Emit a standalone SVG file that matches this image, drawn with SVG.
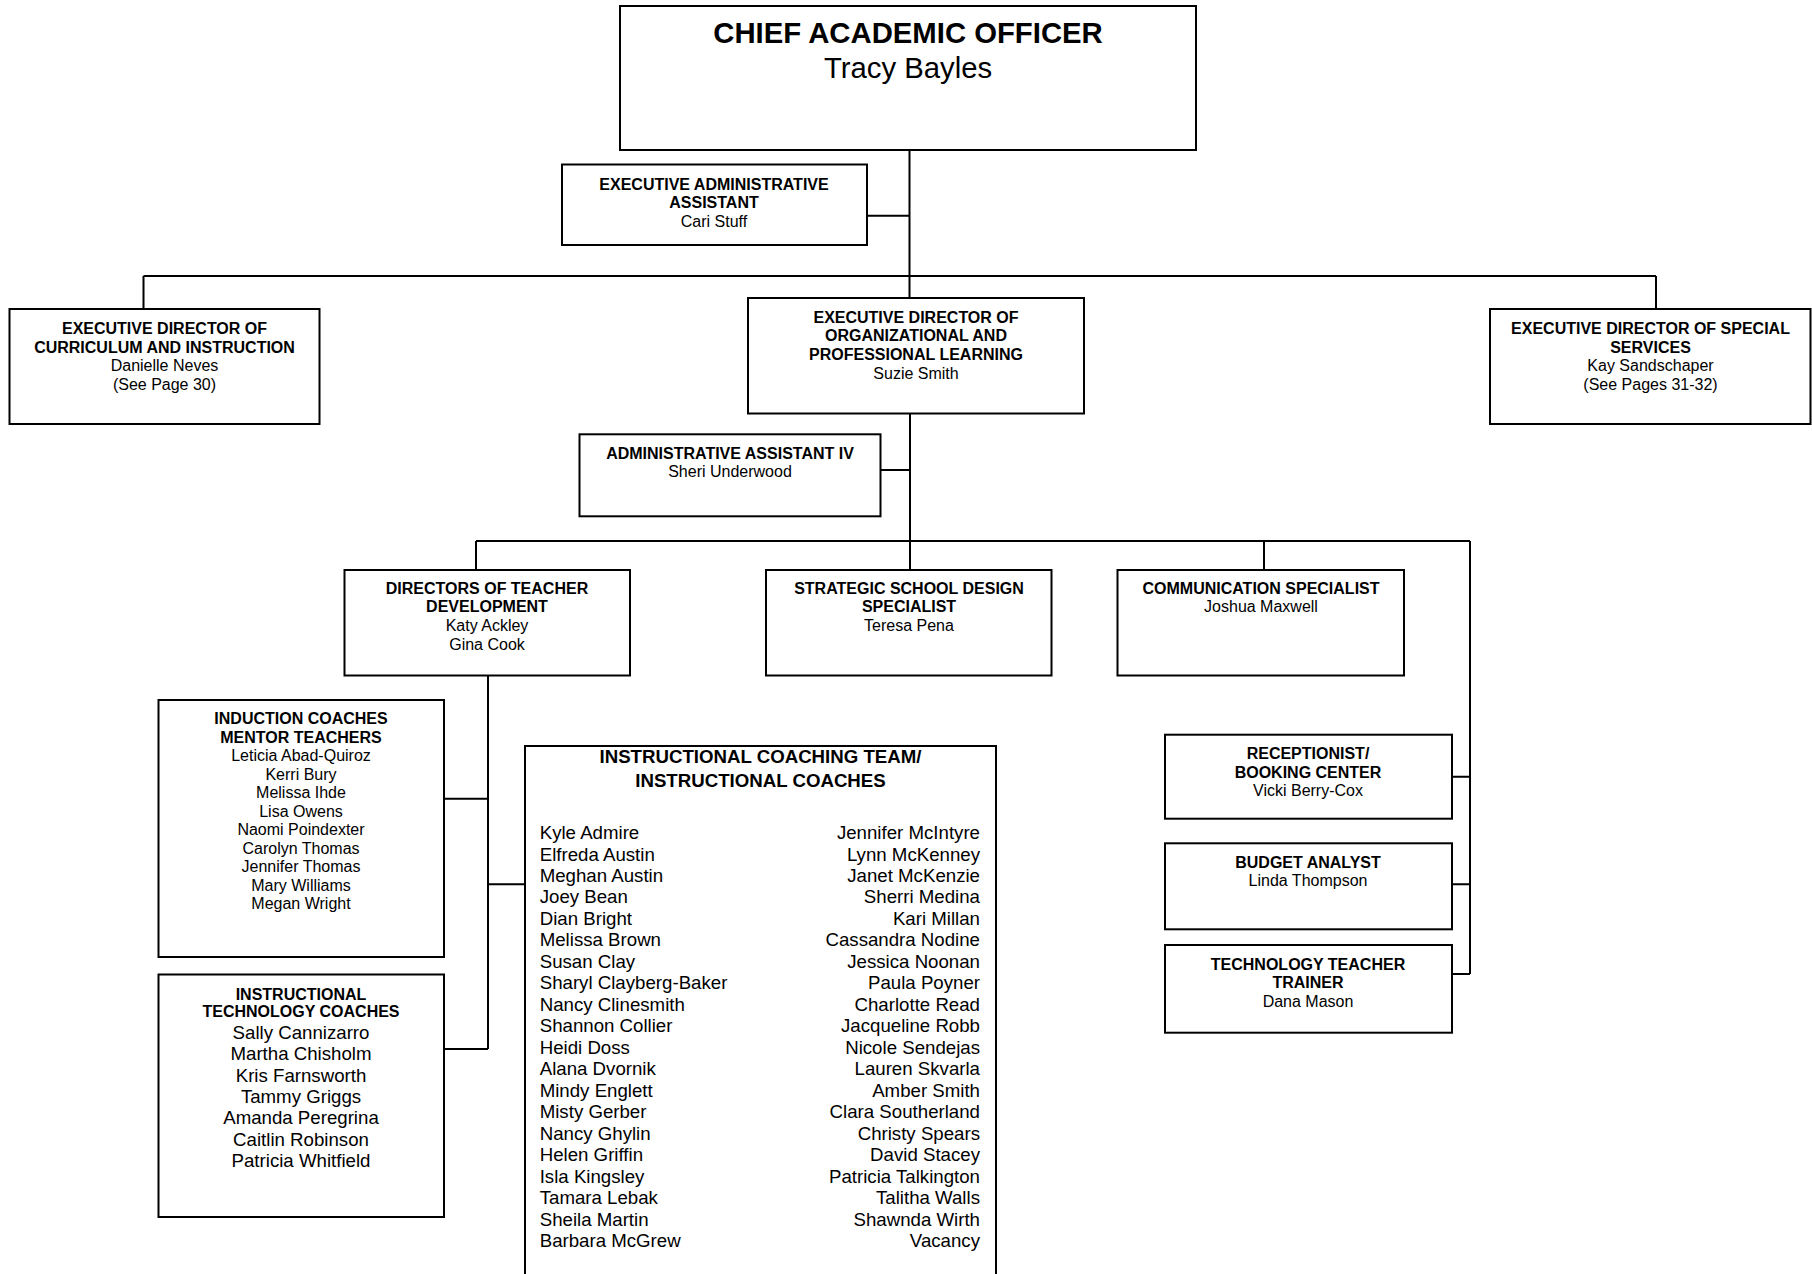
<svg xmlns="http://www.w3.org/2000/svg" width="1812" height="1274" viewBox="0 0 1812 1274">
<style>
  .box{fill:#fff;stroke:#000;stroke-width:2}
  .ln{fill:none;stroke:#000;stroke-width:2}
  text{font-family:"Liberation Sans",Arial,Helvetica,sans-serif;fill:#000}
  .t{font-size:16px;font-weight:bold;text-anchor:middle}
  .n{font-size:16px;text-anchor:middle}
  .t18{font-size:18.67px;font-weight:bold;text-anchor:middle}
  .n18{font-size:18.67px;text-anchor:middle}
  .l18{font-size:18.67px;text-anchor:start}
  .r18{font-size:18.67px;text-anchor:end}
</style>
<rect width="1812" height="1274" fill="#fff"/>
<g id="connectors">
  <path class="ln" d="M909.5 150V298M867 215.7H909.5M143.5 276H1656M143.5 276V309M1656 276V309"/>
  <path class="ln" d="M910 413.5V570M880.5 470H910M476 541H1470M476 541V570M1264 541V570M1470 541V974M1452 776.7H1470M1452 884.3H1470M1452 974H1470"/>
  <path class="ln" d="M488 675.5V1049M444 798.7H488M488 884.3H525M444 1049H488"/>
</g>
<g id="cao">
  <rect class="box" x="620" y="6" width="576" height="144"/>
  <text x="908" y="43" style="font-size:29.3px;font-weight:bold;text-anchor:middle">CHIEF ACADEMIC OFFICER</text>
  <text x="908" y="78" style="font-size:29.3px;text-anchor:middle">Tracy Bayles</text>
</g>
<g id="exec-admin-assistant">
  <rect class="box" x="562" y="164.5" width="305" height="80.5"/>
  <text class="t" x="714" y="189.5">EXECUTIVE ADMINISTRATIVE</text>
  <text class="t" x="714" y="208">ASSISTANT</text>
  <text class="n" x="714" y="226.5">Cari Stuff</text>
</g>
<g id="ed-curriculum">
  <rect class="box" x="9.5" y="309" width="310" height="115"/>
  <text class="t" x="164.5" y="334">EXECUTIVE DIRECTOR OF</text>
  <text class="t" x="164.5" y="352.5">CURRICULUM AND INSTRUCTION</text>
  <text class="n" x="164.5" y="371">Danielle Neves</text>
  <text class="n" x="164.5" y="389.5">(See Page 30)</text>
</g>
<g id="ed-org-prof-learning">
  <rect class="box" x="748" y="298" width="336" height="115.5"/>
  <text class="t" x="916" y="322.5">EXECUTIVE DIRECTOR OF</text>
  <text class="t" x="916" y="341">ORGANIZATIONAL AND</text>
  <text class="t" x="916" y="359.5">PROFESSIONAL LEARNING</text>
  <text class="n" x="916" y="378.5">Suzie Smith</text>
</g>
<g id="ed-special-services">
  <rect class="box" x="1490" y="309" width="320.5" height="115"/>
  <text class="t" x="1650.5" y="334">EXECUTIVE DIRECTOR OF SPECIAL</text>
  <text class="t" x="1650.5" y="352.5">SERVICES</text>
  <text class="n" x="1650.5" y="371">Kay Sandschaper</text>
  <text class="n" x="1650.5" y="389.5">(See Pages 31-32)</text>
</g>
<g id="admin-assistant-iv">
  <rect class="box" x="579.5" y="434.3" width="301" height="82"/>
  <text class="t" x="730" y="458.7">ADMINISTRATIVE ASSISTANT IV</text>
  <text class="n" x="730" y="477.2">Sheri Underwood</text>
</g>
<g id="directors-teacher-dev">
  <rect class="box" x="344.5" y="570" width="285.5" height="105.5"/>
  <text class="t" x="487" y="593.5">DIRECTORS OF TEACHER</text>
  <text class="t" x="487" y="612.3">DEVELOPMENT</text>
  <text class="n" x="487" y="631.1">Katy Ackley</text>
  <text class="n" x="487" y="649.9">Gina Cook</text>
</g>
<g id="strategic-school-design">
  <rect class="box" x="766" y="570" width="285.5" height="105.5"/>
  <text class="t" x="909" y="593.5">STRATEGIC SCHOOL DESIGN</text>
  <text class="t" x="909" y="612.3">SPECIALIST</text>
  <text class="n" x="909" y="631.1">Teresa Pena</text>
</g>
<g id="communication-specialist">
  <rect class="box" x="1117.5" y="570" width="286.5" height="105.5"/>
  <text class="t" x="1261" y="593.5">COMMUNICATION SPECIALIST</text>
  <text class="n" x="1261" y="612.3">Joshua Maxwell</text>
</g>
<g id="induction-coaches">
  <rect class="box" x="158.5" y="700" width="285.5" height="257"/>
  <text class="t" x="301" y="724">INDUCTION COACHES</text>
  <text class="t" x="301" y="742.5">MENTOR TEACHERS</text>
  <text class="n" x="301" y="761">Leticia Abad-Quiroz</text>
  <text class="n" x="301" y="779.5">Kerri Bury</text>
  <text class="n" x="301" y="798">Melissa Ihde</text>
  <text class="n" x="301" y="816.5">Lisa Owens</text>
  <text class="n" x="301" y="835">Naomi Poindexter</text>
  <text class="n" x="301" y="853.5">Carolyn Thomas</text>
  <text class="n" x="301" y="872">Jennifer Thomas</text>
  <text class="n" x="301" y="890.5">Mary Williams</text>
  <text class="n" x="301" y="909">Megan Wright</text>
</g>
<g id="instructional-tech-coaches">
  <rect class="box" x="158.5" y="974.5" width="285.5" height="242.5"/>
  <text class="t" x="301" y="999.5">INSTRUCTIONAL</text>
  <text class="t" x="301" y="1017">TECHNOLOGY COACHES</text>
  <text class="n18" x="301" y="1038.7">Sally Cannizarro</text>
  <text class="n18" x="301" y="1060.1">Martha Chisholm</text>
  <text class="n18" x="301" y="1081.5">Kris Farnsworth</text>
  <text class="n18" x="301" y="1102.9">Tammy Griggs</text>
  <text class="n18" x="301" y="1124.3">Amanda Peregrina</text>
  <text class="n18" x="301" y="1145.7">Caitlin Robinson</text>
  <text class="n18" x="301" y="1167.1">Patricia Whitfield</text>
</g>
<g id="instructional-coaching-team">
  <rect class="box" x="525" y="746" width="471" height="540"/>
  <text class="t18" x="760.5" y="763">INSTRUCTIONAL COACHING TEAM/</text>
  <text class="t18" x="760.5" y="787">INSTRUCTIONAL COACHES</text>
  <g class="col-left">
    <text class="l18" x="539.7" y="839">Kyle Admire</text>
    <text class="l18" x="539.7" y="860.5">Elfreda Austin</text>
    <text class="l18" x="539.7" y="881.9">Meghan Austin</text>
    <text class="l18" x="539.7" y="903.4">Joey Bean</text>
    <text class="l18" x="539.7" y="924.9">Dian Bright</text>
    <text class="l18" x="539.7" y="946.4">Melissa Brown</text>
    <text class="l18" x="539.7" y="967.8">Susan Clay</text>
    <text class="l18" x="539.7" y="989.3">Sharyl Clayberg-Baker</text>
    <text class="l18" x="539.7" y="1010.8">Nancy Clinesmith</text>
    <text class="l18" x="539.7" y="1032.2">Shannon Collier</text>
    <text class="l18" x="539.7" y="1053.7">Heidi Doss</text>
    <text class="l18" x="539.7" y="1075.2">Alana Dvornik</text>
    <text class="l18" x="539.7" y="1096.6">Mindy Englett</text>
    <text class="l18" x="539.7" y="1118.1">Misty Gerber</text>
    <text class="l18" x="539.7" y="1139.6">Nancy Ghylin</text>
    <text class="l18" x="539.7" y="1161.1">Helen Griffin</text>
    <text class="l18" x="539.7" y="1182.5">Isla Kingsley</text>
    <text class="l18" x="539.7" y="1204">Tamara Lebak</text>
    <text class="l18" x="539.7" y="1225.5">Sheila Martin</text>
    <text class="l18" x="539.7" y="1246.9">Barbara McGrew</text>
  </g>
  <g class="col-right">
    <text class="r18" x="980" y="839">Jennifer McIntyre</text>
    <text class="r18" x="980" y="860.5">Lynn McKenney</text>
    <text class="r18" x="980" y="881.9">Janet McKenzie</text>
    <text class="r18" x="980" y="903.4">Sherri Medina</text>
    <text class="r18" x="980" y="924.9">Kari Millan</text>
    <text class="r18" x="980" y="946.4">Cassandra Nodine</text>
    <text class="r18" x="980" y="967.8">Jessica Noonan</text>
    <text class="r18" x="980" y="989.3">Paula Poyner</text>
    <text class="r18" x="980" y="1010.8">Charlotte Read</text>
    <text class="r18" x="980" y="1032.2">Jacqueline Robb</text>
    <text class="r18" x="980" y="1053.7">Nicole Sendejas</text>
    <text class="r18" x="980" y="1075.2">Lauren Skvarla</text>
    <text class="r18" x="980" y="1096.6">Amber Smith</text>
    <text class="r18" x="980" y="1118.1">Clara Southerland</text>
    <text class="r18" x="980" y="1139.6">Christy Spears</text>
    <text class="r18" x="980" y="1161.1">David Stacey</text>
    <text class="r18" x="980" y="1182.5">Patricia Talkington</text>
    <text class="r18" x="980" y="1204">Talitha Walls</text>
    <text class="r18" x="980" y="1225.5">Shawnda Wirth</text>
    <text class="r18" x="980" y="1246.9">Vacancy</text>
  </g>
</g>
<g id="receptionist">
  <rect class="box" x="1165" y="734.7" width="287" height="84"/>
  <text class="t" x="1308" y="759.3">RECEPTIONIST/</text>
  <text class="t" x="1308" y="777.8">BOOKING CENTER</text>
  <text class="n" x="1308" y="796.3">Vicki Berry-Cox</text>
</g>
<g id="budget-analyst">
  <rect class="box" x="1165" y="843.3" width="287" height="86"/>
  <text class="t" x="1308" y="867.7">BUDGET ANALYST</text>
  <text class="n" x="1308" y="886.3">Linda Thompson</text>
</g>
<g id="technology-teacher-trainer">
  <rect class="box" x="1165" y="945" width="287" height="87.7"/>
  <text class="t" x="1308" y="969.5">TECHNOLOGY TEACHER</text>
  <text class="t" x="1308" y="988">TRAINER</text>
  <text class="n" x="1308" y="1007">Dana Mason</text>
</g>
</svg>
